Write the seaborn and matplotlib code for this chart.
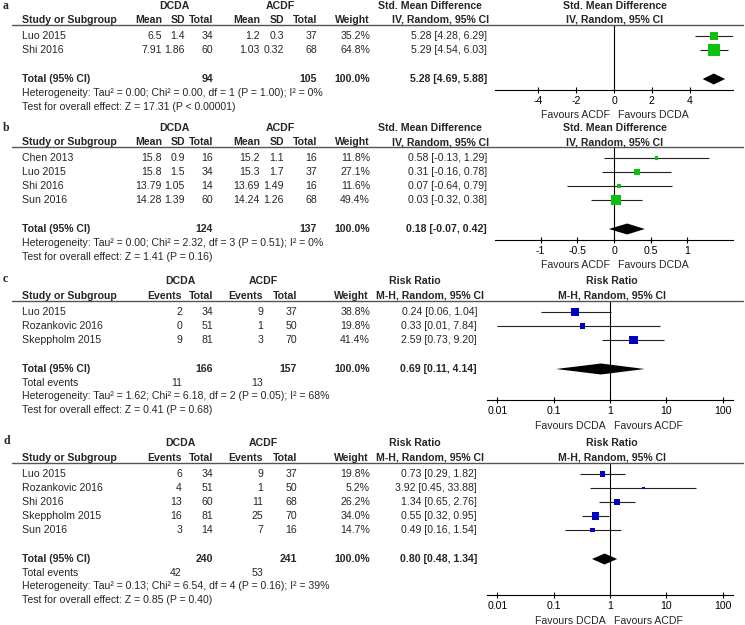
import numpy as np
import pandas as pd
import matplotlib
matplotlib.use("Agg")
import matplotlib.pyplot as plt
import seaborn as sns
from matplotlib.lines import Line2D

# ---------------- data ----------------
# panel a : continuous
a_studies = ["Luo 2015", "Shi 2016"]
a_m1 = ["6.5", "7.91"]
a_sd1 = ["1.4", "1.86"]
a_n1 = [34, 60]
a_m2 = ["1.2", "1.03"]
a_sd2 = ["0.3", "0.32"]
a_n2 = [37, 68]
a_weight = [35.2, 64.8]
a_est = [5.28, 5.29]
a_lo = [4.28, 4.54]
a_hi = [6.29, 6.03]
a_total = [5.28, 4.69, 5.88]
a_het = "Heterogeneity: Tau² = 0.00; Chi² = 0.00, df = 1 (P = 1.00); I² = 0%"
a_test = "Test for overall effect: Z = 17.31 (P < 0.00001)"
a_ticks = [-4, -2, 0, 2, 4]
a_ticklabels = ["-4", "-2", "0", "2", "4"]

# panel b : continuous
b_studies = ["Chen 2013", "Luo 2015", "Shi 2016", "Sun 2016"]
b_m1 = ["15.8", "15.8", "13.79", "14.28"]
b_sd1 = ["0.9", "1.5", "1.05", "1.39"]
b_n1 = [16, 34, 14, 60]
b_m2 = ["15.2", "15.3", "13.69", "14.24"]
b_sd2 = ["1.1", "1.7", "1.49", "1.26"]
b_n2 = [16, 37, 16, 68]
b_weight = [11.8, 27.1, 11.6, 49.4]
b_est = [0.58, 0.31, 0.07, 0.03]
b_lo = [-0.13, -0.16, -0.64, -0.32]
b_hi = [1.29, 0.78, 0.79, 0.38]
b_total = [0.18, -0.07, 0.42]
b_het = "Heterogeneity: Tau² = 0.00; Chi² = 2.32, df = 3 (P = 0.51); I² = 0%"
b_test = "Test for overall effect: Z = 1.41 (P = 0.16)"
b_ticks = [-1, -0.5, 0, 0.5, 1]
b_ticklabels = ["-1", "-0.5", "0", "0.5", "1"]

# panel c : dichotomous
c_studies = ["Luo 2015", "Rozankovic 2016", "Skeppholm 2015"]
c_e1 = [2, 0, 9]
c_n1 = [34, 51, 81]
c_e2 = [9, 1, 3]
c_n2 = [37, 50, 70]
c_weight = [38.8, 19.8, 41.4]
c_est = [0.24, 0.33, 2.59]
c_lo = [0.06, 0.01, 0.73]
c_hi = [1.04, 7.84, 9.20]
c_total = [0.69, 0.11, 4.14]
c_het = "Heterogeneity: Tau² = 1.62; Chi² = 6.18, df = 2 (P = 0.05); I² = 68%"
c_test = "Test for overall effect: Z = 0.41 (P = 0.68)"

# panel d : dichotomous
d_studies = ["Luo 2015", "Rozankovic 2016", "Shi 2016", "Skeppholm 2015", "Sun 2016"]
d_e1 = [6, 4, 13, 16, 3]
d_n1 = [34, 51, 60, 81, 14]
d_e2 = [9, 1, 11, 25, 7]
d_n2 = [37, 50, 68, 70, 16]
d_weight = [19.8, 5.2, 26.2, 34.0, 14.7]
d_est = [0.73, 3.92, 1.34, 0.55, 0.49]
d_lo = [0.29, 0.45, 0.65, 0.32, 0.16]
d_hi = [1.82, 33.88, 2.76, 0.95, 1.54]
d_total = [0.80, 0.48, 1.34]
d_het = "Heterogeneity: Tau² = 0.13; Chi² = 6.54, df = 4 (P = 0.16); I² = 39%"
d_test = "Test for overall effect: Z = 0.85 (P = 0.40)"

total_weight_label = "100.0%"
rr_ticks = [0.01, 0.1, 1, 10, 100]
rr_ticklabels = ["0.01", "0.1", "1", "10", "100"]

# ---------------- style ----------------
sns.set_style("white")
plt.rcParams["font.family"] = ["Liberation Sans", "DejaVu Sans"]
plt.rcParams["axes.unicode_minus"] = False

W, H = 745, 625
fig = plt.figure(figsize=(W / 100, H / 100), dpi=100)
FS = 7.6
GREEN = "#10c010"
BLUE = "#0000c0"


def T(x, y, s, ha="left", bold=False, **kw):
    fig.text(x / W, 1 - y / H, s, ha=ha, va="center", fontsize=FS,
             fontweight="bold" if bold else "normal", **kw)


def HL(x0, x1, y, lw=1.0):
    fig.add_artist(Line2D([x0 / W, x1 / W], [1 - y / H, 1 - y / H],
                          color="#555555", lw=lw, transform=fig.transFigure))


def ci_txt(e, l, h):
    return f"{e:.2f} [{l:.2f}, {h:.2f}]"


def forest_axes(xl, xr, line_y, axis_y, xlim, log, ticks, ticklabels, zero):
    ax = fig.add_axes([xl / W, 1 - axis_y / H, (xr - xl) / W, (axis_y - line_y) / H])
    if log:
        ax.set_xscale("log")
    ax.set_xlim(*xlim)
    ax.set_ylim(axis_y, line_y)
    for s in ["left", "top", "right"]:
        ax.spines[s].set_visible(False)
    ax.spines["bottom"].set_color("black")
    ax.spines["bottom"].set_linewidth(0.8)
    ax.set_yticks([])
    ax.set_xticks(ticks)
    ax.set_xticklabels(ticklabels)
    ax.minorticks_off()
    ax.tick_params(axis="x", direction="inout", length=5, width=0.8,
                   labelsize=FS, pad=1.5, colors="black", bottom=True)
    ax.axvline(zero, color="black", lw=0.8, zorder=1)
    ax.patch.set_alpha(0)
    return ax


def draw_marks(ax, est, lo, hi, weight, rows_y, total, total_y, color):
    ax.hlines(rows_y, lo, hi, color="#222222", lw=0.8, zorder=2)
    df = pd.DataFrame({"est": est, "y": rows_y, "w": weight})
    sizes = [((2 + w * 0.16) * 0.72) ** 2 for w in weight]
    sns.scatterplot(data=df, x="est", y="y", marker="s", s=sizes, color=color,
                    edgecolor="none", linewidth=0, ax=ax, legend=False, zorder=3)
    e, l, h = total
    ax.fill([l, e, h, e], [total_y, total_y - 5.5, total_y, total_y + 5.5],
            color="black", zorder=3, lw=0)
    ax.set_xlabel("")
    ax.set_ylabel("")


def cont_panel(label, top, studies, m1, sd1, n1, m2, sd2, n2, weight, est, lo, hi,
               total, het, test, ticks, ticklabels, scale):
    h1, h2, line_y = top, top + 14, top + 19
    rows_y = [top + 30 + 14 * i for i in range(len(studies))]
    total_y = rows_y[-1] + 29
    het_y, test_y = total_y + 14, total_y + 28
    axis_y = line_y + 65 if len(studies) == 2 else line_y + 93
    fig.text(3 / W, 1 - h1 / H, label, ha="left", va="center", fontsize=8.5,
             fontweight="bold", family="Liberation Serif")
    T(174, h1, "DCDA", "center", True)
    T(280, h1, "ACDF", "center", True)
    T(430, h1, "Std. Mean Difference", "center", True)
    T(615, h1, "Std. Mean Difference", "center", True)
    T(22, h2, "Study or Subgroup", "left", True)
    for x, s in [(162, "Mean"), (185, "SD"), (213, "Total"), (260, "Mean"),
                 (284, "SD"), (317, "Total"), (370, "Weight")]:
        T(x, h2, s, "right", True)
    T(441, h2, "IV, Random, 95% CI", "center", True)
    T(615, h2, "IV, Random, 95% CI", "center", True)
    HL(12, 743, line_y)
    for i, y in enumerate(rows_y):
        T(22, y, studies[i])
        T(162, y, m1[i], "right")
        T(185, y, sd1[i], "right")
        T(213, y, str(n1[i]), "right")
        T(260, y, m2[i], "right")
        T(284, y, sd2[i], "right")
        T(317, y, str(n2[i]), "right")
        T(370, y, f"{weight[i]:.1f}%", "right")
        T(487, y, ci_txt(est[i], lo[i], hi[i]), "right")
    T(22, total_y, "Total (95% CI)", "left", True)
    T(213, total_y, str(sum(n1)), "right", True)
    T(317, total_y, str(sum(n2)), "right", True)
    T(370, total_y, total_weight_label, "right", True)
    T(487, total_y, ci_txt(*total), "right", True)
    T(22, het_y, het)
    T(22, test_y, test)
    xl, xr, zero_px = 495, 733, 614
    lim = (zero_px - xl) / scale
    ax = forest_axes(xl, xr, line_y, axis_y, (-lim, lim), False, ticks, ticklabels, 0)
    draw_marks(ax, est, lo, hi, weight, rows_y, total, total_y, GREEN)
    fav_y = axis_y + 25
    T(zero_px - 4, fav_y, "Favours ACDF", "right")
    T(zero_px + 4, fav_y, "Favours DCDA", "left")


def dich_panel(label, top, studies, e1, n1, e2, n2, weight, est, lo, hi,
               total, het, test, axis_off):
    h1, h2, line_y = top, top + 15, top + 20
    rows_y = [top + 31 + 14 * i for i in range(len(studies))]
    total_y = rows_y[-1] + 29
    te_y, het_y, test_y = total_y + 14, total_y + 27, total_y + 41
    axis_y = line_y + axis_off
    fig.text(3 / W, 1 - (h1 - 2) / H, label, ha="left", va="center", fontsize=8.5,
             fontweight="bold", family="Liberation Serif")
    T(180, h1, "DCDA", "center", True)
    T(263, h1, "ACDF", "center", True)
    T(415, h1, "Risk Ratio", "center", True)
    T(612, h1, "Risk Ratio", "center", True)
    T(22, h2, "Study or Subgroup", "left", True)
    for x, s in [(182, "Events"), (213, "Total"), (263, "Events"),
                 (297, "Total"), (369, "Weight")]:
        T(x, h2, s, "right", True)
    T(430, h2, "M-H, Random, 95% CI", "center", True)
    T(612, h2, "M-H, Random, 95% CI", "center", True)
    HL(12, 743, line_y)
    for i, y in enumerate(rows_y):
        T(22, y, studies[i])
        T(182, y, str(e1[i]), "right")
        T(213, y, str(n1[i]), "right")
        T(263, y, str(e2[i]), "right")
        T(297, y, str(n2[i]), "right")
        T(370, y, f"{weight[i]:.1f}%", "right")
        T(477, y, ci_txt(est[i], lo[i], hi[i]), "right")
    T(22, total_y, "Total (95% CI)", "left", True)
    T(213, total_y, str(sum(n1)), "right", True)
    T(297, total_y, str(sum(n2)), "right", True)
    T(370, total_y, total_weight_label, "right", True)
    T(477, total_y, ci_txt(*total), "right", True)
    T(22, te_y, "Total events")
    T(182, te_y, str(sum(e1)), "right")
    T(263, te_y, str(sum(e2)), "right")
    T(22, het_y, het)
    T(22, test_y, test)
    xl, xr, zero_px = 487, 733, 610
    dec = 56.3
    xlim = (10 ** (-(zero_px - xl) / dec), 10 ** ((xr - zero_px) / dec))
    ax = forest_axes(xl, xr, line_y, axis_y, xlim, True, rr_ticks, rr_ticklabels, 1)
    draw_marks(ax, est, lo, hi, weight, rows_y, total, total_y, BLUE)
    fav_y = axis_y + 26
    T(zero_px - 4, fav_y, "Favours DCDA", "right")
    T(zero_px + 4, fav_y, "Favours ACDF", "left")


cont_panel("a", 6, a_studies, a_m1, a_sd1, a_n1, a_m2, a_sd2, a_n2, a_weight,
           a_est, a_lo, a_hi, a_total, a_het, a_test, a_ticks, a_ticklabels, 18.9)
cont_panel("b", 128, b_studies, b_m1, b_sd1, b_n1, b_m2, b_sd2, b_n2, b_weight,
           b_est, b_lo, b_hi, b_total, b_het, b_test, b_ticks, b_ticklabels, 73.3)
dich_panel("c", 281, c_studies, c_e1, c_n1, c_e2, c_n2, c_weight, c_est, c_lo, c_hi,
           c_total, c_het, c_test, 99)
dich_panel("d", 443, d_studies, d_e1, d_n1, d_e2, d_n2, d_weight, d_est, d_lo, d_hi,
           d_total, d_het, d_test, 132)

fig.savefig("out.png", dpi=100)
